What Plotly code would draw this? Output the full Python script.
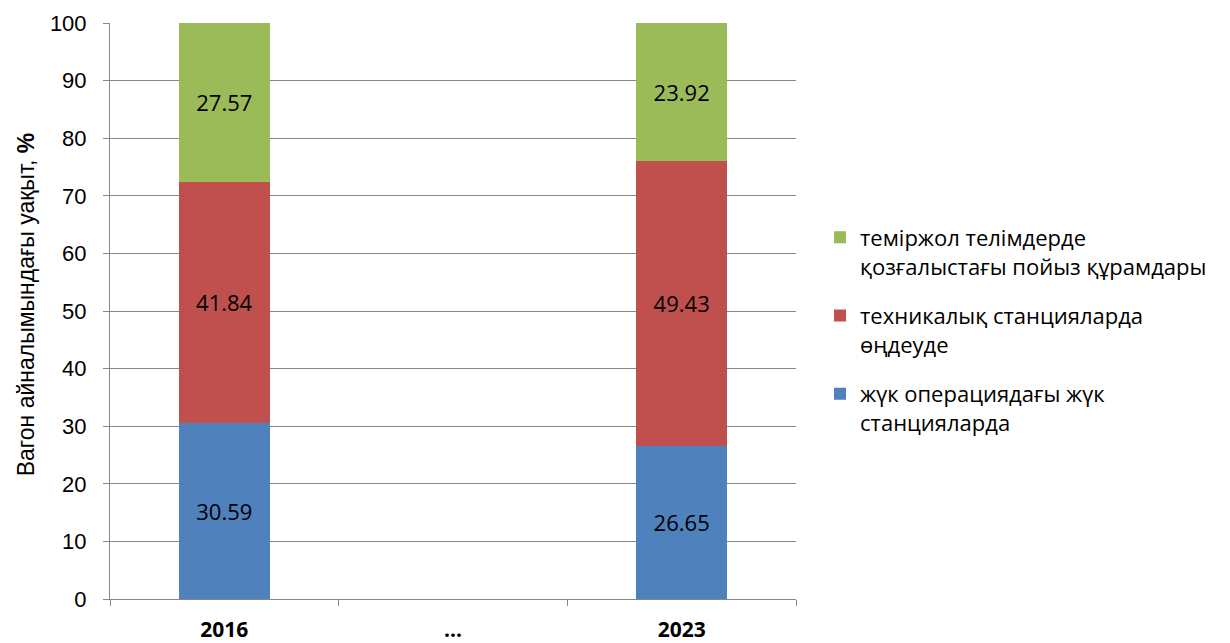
import plotly.graph_objects as go

categories = ["2016", "…", "2023"]
series_names = [
    "жүк операциядағы жүк<br>станцияларда",
    "техникалық станцияларда<br>өңдеуде",
    "теміржол телімдерде<br>қозғалыстағы пойыз құрамдары",
]
blue_vals = [30.59, None, 26.65]
red_vals = [41.84, None, 49.43]
green_vals = [27.57, None, 23.92]
colors = ["#4F81BD", "#C0504D", "#9BBB59"]
legend_ranks = [3, 2, 1]
y_title = "Вагон айналымындағы уақыт, <b>%</b>"

fig = go.Figure()
for i, (name, vals, col) in enumerate(zip(series_names, [blue_vals, red_vals, green_vals], colors)):
    fig.add_trace(go.Bar(
        x=categories, y=vals, name=name, marker_color=col, marker_line_width=0,
        legendgroup="g%d" % i, legendrank=legend_ranks[i],
        text=[("%.2f" % v) if v is not None else "" for v in vals],
        textposition="inside", insidetextanchor="middle",
        textfont=dict(family="Open Sans, Noto Sans, sans-serif", size=22, color="black"),
    ))

# page body has an 8px default margin, so margins are offset by 8px
fig.update_layout(
    barmode="stack", bargap=0.6,
    width=1230, height=643,
    margin=dict(l=102, r=442, t=15, b=52, autoexpand=False),
    plot_bgcolor="white", paper_bgcolor="white",
    legend=dict(
        x=1.035, y=0.664, xanchor="left", yanchor="top",
        traceorder="grouped", valign="top",
        font=dict(family="Open Sans, Noto Sans, sans-serif", size=22, color="black"),
        tracegroupgap=18,
    ),
    uniformtext=dict(mode=False),
    annotations=[dict(
        text=y_title, xref="paper", yref="paper", x=-0.1224, y=0.51,
        xanchor="center", yanchor="middle", textangle=-90, showarrow=False,
        font=dict(family="Liberation Sans, Arial, sans-serif", size=23, color="black"),
    )],
)
fig.update_yaxes(
    range=[0, 100], dtick=10, showgrid=True, gridcolor="#878787", gridwidth=1,
    showline=True, linecolor="#878787", ticks="outside", ticklen=6, tickcolor="#878787",
    ticklabelstandoff=12, automargin=False,
    tickfont=dict(family="Liberation Sans, Arial, sans-serif", size=22, color="black"),
    zeroline=False,
)
fig.update_xaxes(
    showline=True, linecolor="#878787", ticks="outside", ticklen=6, tickcolor="#878787",
    tickson="boundaries", ticklabelstandoff=12, automargin=False,
    tickfont=dict(family="Open Sans, Noto Sans, sans-serif", size=21, color="black", weight="bold"),
)

fig.write_html("out.html")
